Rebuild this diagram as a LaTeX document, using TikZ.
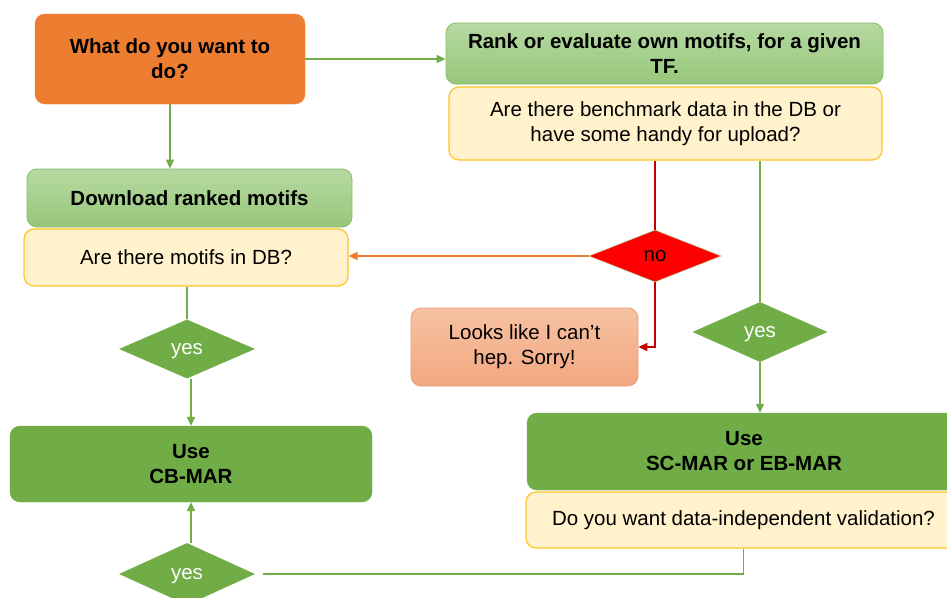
\documentclass[tikz,border=0pt]{standalone}
\usepackage{fontspec}
\setmainfont{Liberation Sans}
\usetikzlibrary{shapes.geometric,arrows.meta}
\definecolor{startorange}{HTML}{ED7D31}
\definecolor{lightgreenA}{HTML}{B6D9A2}
\definecolor{lightgreenB}{HTML}{97C77A}
\definecolor{lightgreenE}{HTML}{88BD6A}
\definecolor{darkgreen}{HTML}{70AD47}
\definecolor{cream}{HTML}{FFF2CC}
\definecolor{creamedge}{HTML}{FFC524}
\definecolor{salmonA}{HTML}{F7C2A2}
\definecolor{salmonB}{HTML}{F2A781}
\definecolor{salmonE}{HTML}{EE9E78}
\definecolor{nored}{HTML}{FF0000}
\definecolor{linered}{HTML}{C00000}
% label centred on the x-height of the diamond
\newcommand{\dialabel}[1]{\raisebox{-5.5pt}[0pt][0pt]{#1}}
\tikzset{
  base/.style={rounded corners=10pt, inner sep=0pt, align=center,
    font=\fontsize{20.5}{25}\selectfont},
  startbox/.style={base, fill=startorange, draw=startorange,
    font=\fontsize{20.5}{25}\selectfont\bfseries},
  taskbox/.style={base, top color=lightgreenA, bottom color=lightgreenB,
    draw=lightgreenE, line width=0.8pt, font=\fontsize{20.5}{25}\selectfont\bfseries},
  askbox/.style={base, fill=cream, draw=creamedge, line width=1.2pt},
  usebox/.style={base, fill=darkgreen, draw=darkgreen,
    font=\fontsize{20.5}{25}\selectfont\bfseries},
  sorrybox/.style={base, top color=salmonA, bottom color=salmonB, draw=salmonE, line width=0.8pt},
  yesdia/.style={diamond, fill=darkgreen, inner sep=0pt, text=white,
    font=\fontsize{20.5}{25}\selectfont},
  nodia/.style={diamond, fill=nored, draw=darkgreen!60, line width=0.5pt, inner sep=0pt,
    font=\fontsize{20.5}{25}\selectfont},
  tip/.style={-{Triangle[length=9pt,width=8pt]}},
  link/.style={draw=darkgreen, line width=1.5pt},
  arr/.style={link, tip},
  redlink/.style={draw=linered, line width=1.5pt},
  orangelink/.style={draw=startorange, line width=1.5pt}
}
\begin{document}
\begin{tikzpicture}[x=1pt, y=-1pt]
\useasboundingbox (0,0) rectangle (947,597);
\clip (0,0) rectangle (947,597);
\fill[white] (0,0) rectangle (947,597);

% boxes
\node[startbox, minimum width=270pt, minimum height=90pt] (q0) at (170,59)
  {What do you want to\\do?};
\node[taskbox, minimum width=437pt, minimum height=61pt] (rank) at (664.5,53.5)
  {Rank or evaluate own motifs, for a given\\TF.};
\node[askbox, minimum width=433pt, minimum height=73pt] (bench) at (665.5,123.5)
  {Are there benchmark data in the DB or\\have some handy for upload?};
\node[taskbox, minimum width=325pt, minimum height=58pt] (dl) at (189.5,198)
  {Download ranked motifs};
\node[askbox, minimum width=324pt, minimum height=57pt] (motifs) at (186,257.5)
  {Are there motifs in DB?};
\node[sorrybox, minimum width=227pt, minimum height=78pt] (sorry) at (524.5,347)
  {Looks like I can’t\\hep. Sorry!};
\node[usebox, minimum width=362pt, minimum height=76pt] (cbmar) at (191,464)
  {Use\\CB-MAR};
\node[usebox, minimum width=434pt, minimum height=77pt] (scmar) at (744,451.5)
  {Use\\SC-MAR or EB-MAR};
\node[askbox, minimum width=435pt, minimum height=56pt] (valid) at (743.5,520)
  {Do you want data-independent validation?};

% decisions
\node[nodia, minimum width=132pt, minimum height=52pt] (no) at (655,256) {\dialabel{no}};
\node[yesdia, minimum width=135pt, minimum height=60pt] (yesR) at (760,332) {\dialabel{yes}};
\node[yesdia, minimum width=136pt, minimum height=59pt] (yesA) at (187,349) {\dialabel{yes}};
\node[yesdia, minimum width=136pt, minimum height=62pt] (yesB) at (187,574) {\dialabel{yes}};

% connectors
\draw[arr] (q0.south) -- (q0.south |- dl.north);
\draw[arr] (q0.east) -- (q0.east -| rank.west);
\draw[redlink] (no.north |- bench.south) -- (no.north);
\draw[redlink, tip] (no.south) |- (sorry.east);
\draw[orangelink, tip] (no.west) -- (no.west -| motifs.east);
\draw[link] (yesR.north |- bench.south) -- (yesR.north);
\draw[arr] (yesR.south) -- (yesR.south |- scmar.north);
\draw[link] (yesA.north |- motifs.south) -- (yesA.north);
\draw[arr] ([xshift=4pt]yesA.south) -- ([xshift=4pt]yesA.south |- cbmar.north);
\draw[link] (valid.south) |- ([xshift=8pt]yesB.east);
\draw[arr] ([xshift=4pt]yesB.north) -- ([xshift=4pt]yesB.north |- cbmar.south);
\end{tikzpicture}
\end{document}
